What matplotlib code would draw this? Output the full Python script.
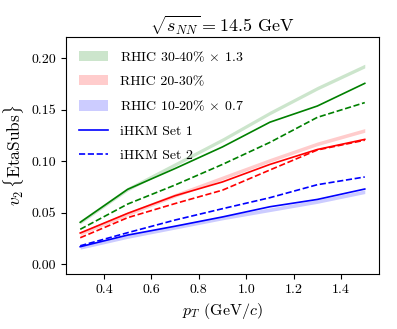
import matplotlib
matplotlib.use("Agg")
import matplotlib.pyplot as plt
import numpy as np
from matplotlib.patches import Patch
from matplotlib.lines import Line2D

plt.rcParams['font.family'] = 'serif'
plt.rcParams['font.serif'] = ['cmr10', 'DejaVu Serif']
plt.rcParams['mathtext.fontset'] = 'cm'
plt.rcParams['axes.unicode_minus'] = False
plt.rcParams['axes.formatter.use_mathtext'] = True

pt = [0.3, 0.5, 0.7, 0.9, 1.1, 1.3, 1.5]

rhic_3040 = [0.041, 0.073, 0.097, 0.121, 0.147, 0.171, 0.1925]
rhic_2030 = [0.030, 0.049, 0.067, 0.084, 0.101, 0.117, 0.130]
rhic_1020 = [0.0165, 0.027, 0.036, 0.045, 0.053, 0.061, 0.0705]
band_err = [0.0018, 0.0018, 0.0018, 0.0018, 0.0018, 0.0018, 0.0018]

set1_3040 = [0.0408, 0.0728, 0.093, 0.114, 0.138, 0.1537, 0.1757]
set2_3040 = [0.034, 0.0585, 0.077, 0.097, 0.1184, 0.1427, 0.157]
set1_2030 = [0.0304, 0.0495, 0.0666, 0.080, 0.097, 0.1115, 0.1213]
set2_2030 = [0.0258, 0.0453, 0.059, 0.072, 0.0916, 0.111, 0.1205]
set1_1020 = [0.0171, 0.0284, 0.037, 0.046, 0.0559, 0.063, 0.0731]
set2_1020 = [0.018, 0.0307, 0.043, 0.054, 0.0647, 0.0773, 0.0848]

labels = [r'RHIC 30-40% $\times$ 1.3', 'RHIC 20-30%', r'RHIC 10-20% $\times$ 0.7',
          'iHKM Set 1', 'iHKM Set 2']

fig = plt.figure(figsize=(3.97, 3.29), dpi=100)
ax = fig.add_axes([66/397, 1-274/329, 313/397, 237/329])

x = np.array(pt)
err = np.array(band_err)
for band, c in [(rhic_3040, 'green'), (rhic_2030, 'red'), (rhic_1020, 'blue')]:
    b = np.array(band)
    ax.fill_between(x, b - err, b + err, color=c, alpha=0.2, lw=0)

for s1, s2, c in [(set1_3040, set2_3040, 'green'), (set1_2030, set2_2030, 'red'),
                  (set1_1020, set2_1020, 'blue')]:
    ax.plot(x, s1, color=c, lw=1.2, ls='-')
    ax.plot(x, s2, color=c, lw=1.2, ls='--')

ax.set_xlim(0.24, 1.56)
ax.set_ylim(-0.0094, 0.2207)
ax.set_xticks([0.4, 0.6, 0.8, 1.0, 1.2, 1.4])
ax.set_xticklabels(['0.4', '0.6', '0.8', '1.0', '1.2', '1.4'])
ax.set_yticks([0.0, 0.05, 0.10, 0.15, 0.20])
ax.set_yticklabels(['0.00', '0.05', '0.10', '0.15', '0.20'])
ax.tick_params(labelsize=10)

ax.set_title(r'$\sqrt{s_{NN}} = 14.5$ GeV', fontsize=13, pad=4)
ax.set_xlabel(r'$p_T$ (GeV/$c$)', fontsize=11.5)
ax.set_ylabel(r'$v_2\,\{$EtaSubs$\}$', fontsize=12.5)

handles = [Patch(facecolor='green', alpha=0.2, edgecolor='none'),
           Patch(facecolor='red', alpha=0.2, edgecolor='none'),
           Patch(facecolor='blue', alpha=0.2, edgecolor='none'),
           Line2D([], [], color='blue', lw=1.2, ls='-'),
           Line2D([], [], color='blue', lw=1.2, ls='--')]
ax.legend(handles, labels, loc='upper left', frameon=False, fontsize=10,
          labelspacing=0.8, handlelength=2.15, handleheight=0.77,
          handletextpad=0.85, borderaxespad=0.5)

fig.savefig('out.png', dpi=100)
